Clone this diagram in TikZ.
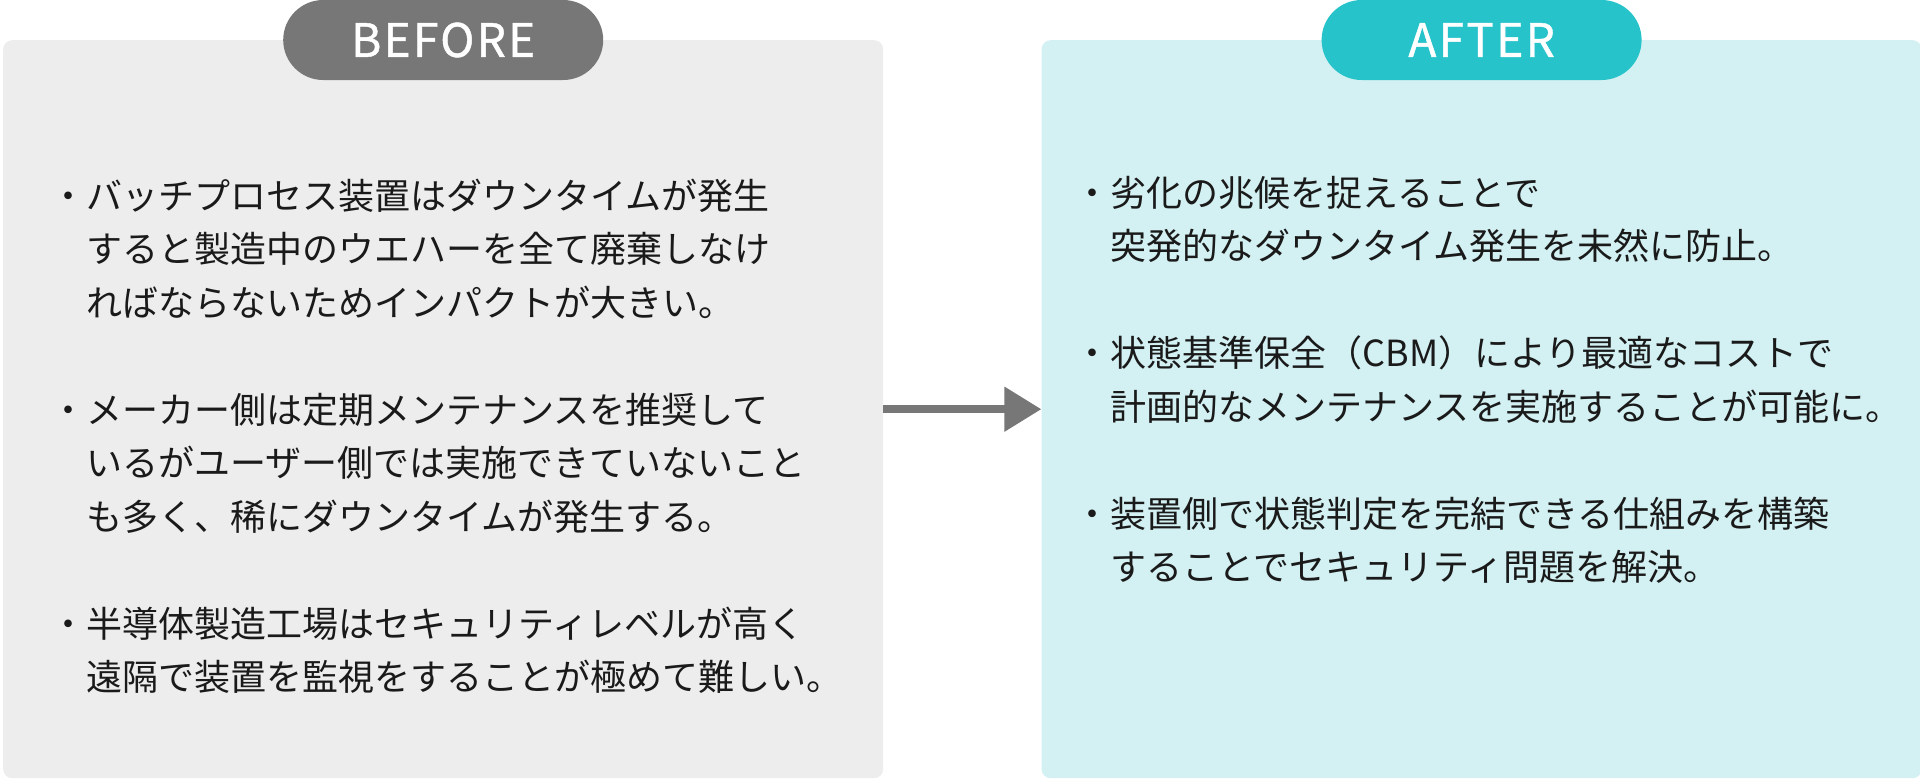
\documentclass[tikz,border=0pt]{standalone}
\usepackage{fontspec}
\setmainfont{Noto Sans CJK JP}
\newfontfamily\tagfont[FakeBold=1, LetterSpace=5]{Noto Sans CJK JP}
\usetikzlibrary{positioning, arrows.meta}

\definecolor{beforebg}{HTML}{EDEDED}
\definecolor{beforetag}{HTML}{777777}
\definecolor{afterbg}{HTML}{D3F0F2}
\definecolor{aftertag}{HTML}{26C3CA}
\definecolor{bodytext}{HTML}{1A1A1A}

\begin{document}
\begin{tikzpicture}[x=1pt, y=-1pt,
    panel/.style={rounded corners=9pt, minimum width=880pt, minimum height=738pt, inner sep=0pt, anchor=north west},
    tag/.style={rounded corners=40pt, minimum width=320pt, minimum height=80pt, inner sep=0pt, text=white, font=\tagfont\fontsize{46pt}{46pt}\selectfont},
    items/.style={inner sep=0pt, align=left, text=bodytext, font=\fontsize{36pt}{53.5pt}\selectfont}]
    \useasboundingbox (0,0) rectangle (1920,779);

    \node[panel, fill=beforebg] (before) at (3,40) {};
    \node[panel, fill=afterbg] (after) [right=158pt of before] {};

    \node[tag, fill=beforetag] (beforelabel) at (before.north) {BEFORE};
    \node[tag, fill=aftertag] (afterlabel) at (after.north) {AFTER};

    \node[items] (beforeitems) [below right=129pt and 47pt of before.north west] {%
        \rule{0pt}{40pt}・バッチプロセス装置はダウンタイムが発生\\
        \hspace*{1em}すると製造中のウエハーを全て廃棄しなけ\\
        \hspace*{1em}ればならないためインパクトが大きい。\\[53.5pt]
        ・メーカー側は定期メンテナンスを推奨して\\
        \hspace*{1em}いるがユーザー側では実施できていないこと\\
        \hspace*{1em}も多く、稀にダウンタイムが発生する。\\[53.5pt]
        ・半導体製造工場はセキュリティレベルが高く\\
        \hspace*{1em}遠隔で装置を監視をすることが極めて難しい。};

    \node[items] (afteritems) [below right=126pt and 33pt of after.north west] {%
        \rule{0pt}{40pt}・劣化の兆候を捉えることで\\
        \hspace*{1em}突発的なダウンタイム発生を未然に防止。\\[53.5pt]
        ・状態基準保全（CBM）により最適なコストで\\
        \hspace*{1em}計画的なメンテナンスを実施することが可能に。\\[53.5pt]
        ・装置側で状態判定を完結できる仕組みを構築\\
        \hspace*{1em}することでセキュリティ問題を解決。};

    \draw[line width=8pt, draw=beforetag, -{Triangle[length=37pt, width=43pt]}] (before) -- (after);
\end{tikzpicture}
\end{document}
